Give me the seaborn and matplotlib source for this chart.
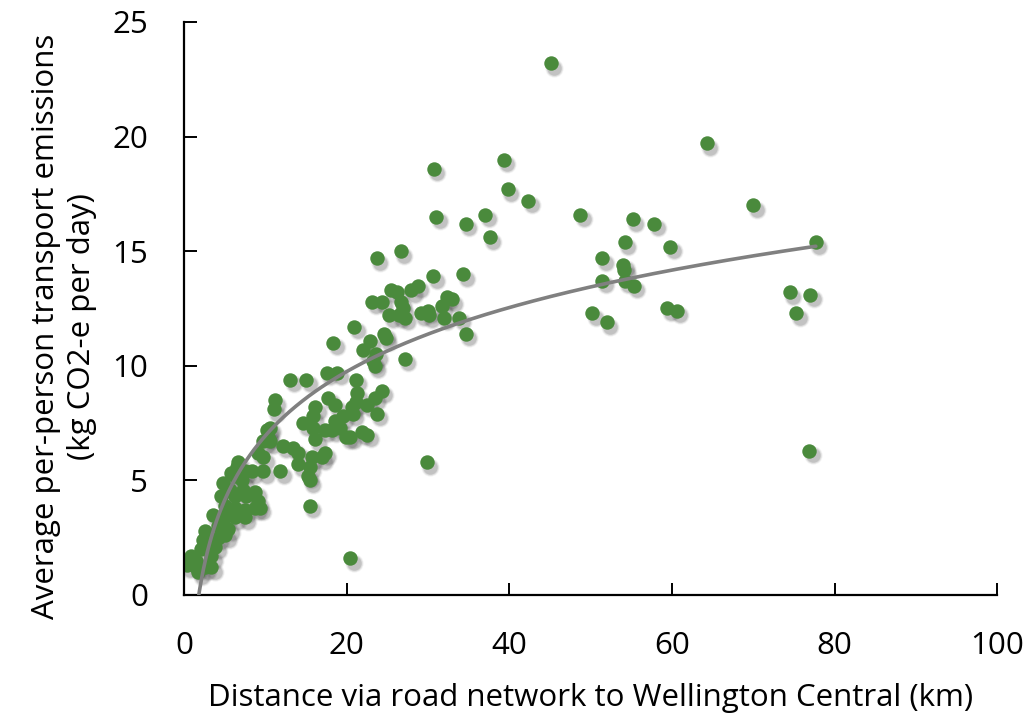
import numpy as np
import pandas as pd
import seaborn as sns
import matplotlib.pyplot as plt
from matplotlib.transforms import offset_copy

# distance via road network (km) and per-person emissions (kg CO2-e / day)
distance_km = [
    45.1, 64.3, 70.0, 39.3, 30.7, 39.8, 42.3, 48.7, 37.0, 31.0,
    34.6, 55.2, 57.8, 37.6, 59.8, 54.2, 77.7, 26.6, 23.7, 51.4,
    54.0, 54.1, 51.4, 54.2, 55.3, 34.3, 30.6, 74.5, 77.0, 75.3,
    50.2, 59.4, 60.6, 52.0, 34.6, 76.9, 29.8, 20.4, 15.4, 25.4,
    26.2, 27.9, 28.7, 23.1, 24.3, 26.6, 26.9, 25.2, 26.4, 27.1,
    29.1, 30.0, 30.1, 31.7, 32.3, 32.9, 31.9, 33.8, 20.9, 24.6,
    24.8, 22.8, 22.0, 23.6, 23.2, 23.4, 27.1, 18.3, 18.8, 13.0,
    15.0, 17.5, 21.1, 11.1, 11.0, 17.7, 18.5, 16.1, 15.8, 14.6,
    21.2, 21.1, 20.6, 20.7, 19.5, 18.5, 22.5, 23.4, 24.3, 23.7,
    17.3, 18.2, 19.1, 19.9, 20.4, 21.8, 22.5, 16.1, 12.1, 13.4,
    14.0, 14.0, 15.7, 15.4, 15.2, 17.3, 16.9, 15.8, 9.7, 11.8,
    10.2, 9.7, 10.5, 9.7, 10.3, 10.5, 9.0, 6.5, 6.2, 7.1,
    8.3, 4.7, 5.6, 7.2, 8.7, 5.7, 7.4, 4.5, 6.2, 7.6,
    9.0, 9.3, 8.7, 7.4, 6.2, 5.0, 3.5, 5.0, 6.2, 7.4,
    2.6, 4.1, 5.4, 2.3, 4.1, 5.0, 2.0, 3.8, 3.3, 0.8,
    0.3, 1.4, 2.5, 3.3, 1.7, 1.4, 6.6, 15.4,
]
emissions = [
    23.2, 19.7, 17.0, 19.0, 18.6, 17.7, 17.2, 16.6, 16.6, 16.5,
    16.2, 16.4, 16.2, 15.6, 15.2, 15.4, 15.4, 15.0, 14.7, 14.7,
    14.4, 14.2, 13.7, 13.7, 13.5, 14.0, 13.9, 13.2, 13.1, 12.3,
    12.3, 12.5, 12.4, 11.9, 11.4, 6.3, 5.8, 1.6, 3.9, 13.3,
    13.2, 13.3, 13.5, 12.8, 12.8, 12.8, 12.5, 12.2, 12.2, 12.1,
    12.3, 12.4, 12.2, 12.6, 13.0, 12.9, 12.1, 12.1, 11.7, 11.4,
    11.2, 11.1, 10.7, 10.5, 10.2, 10.0, 10.3, 11.0, 9.7, 9.4,
    9.4, 9.7, 9.4, 8.5, 8.1, 8.6, 8.3, 8.2, 7.8, 7.5,
    8.8, 8.4, 8.2, 7.9, 7.8, 7.6, 8.3, 8.6, 8.9, 7.9,
    7.2, 7.2, 7.3, 6.9, 6.9, 7.1, 7.0, 6.8, 6.5, 6.4,
    6.2, 5.7, 6.0, 5.6, 5.2, 6.2, 6.0, 7.3, 5.4, 5.4,
    7.2, 6.7, 7.3, 6.0, 6.9, 6.7, 6.2, 5.6, 5.2, 5.0,
    5.4, 4.9, 4.6, 4.6, 4.5, 5.3, 5.4, 4.3, 4.3, 4.3,
    4.1, 3.8, 3.8, 3.7, 3.8, 3.9, 3.5, 3.4, 3.4, 3.4,
    2.8, 3.0, 2.9, 2.4, 2.5, 2.6, 2.0, 2.1, 1.7, 1.7,
    1.3, 1.2, 1.2, 1.2, 1.0, 1.5, 5.8, 5.0,
]

x_ticks = [0, 20, 40, 60, 80, 100]
y_ticks = [0, 5, 10, 15, 20, 25]

df = pd.DataFrame({'dist': distance_km, 'emis': emissions})

# excel style log trendline
a, b = np.polyfit(np.log(df['dist']), df['emis'], 1)
xs = np.linspace(df['dist'].min(), df['dist'].max(), 300)
trend = pd.DataFrame({'dist': xs, 'emis': a * np.log(xs) + b})

sns.set_style('white')
plt.rcParams['font.family'] = ['Open Sans', 'DejaVu Sans']
plt.rcParams['text.color'] = 'black'
plt.rcParams['axes.labelcolor'] = 'black'

fig = plt.figure(figsize=(10.3, 7.21), dpi=100)
ax = fig.add_axes([0.179, 0.1748, 0.789, 0.7947])

green = '#4a8a3c'
msize = 108

# soft drop shadow under the dots
for grow, alpha in [(1.6, 0.06), (1.3, 0.10), (1.0, 0.16)]:
    shadow_tr = offset_copy(ax.transData, fig=fig, x=3.5, y=-4.5, units='dots')
    sns.scatterplot(data=df, x='dist', y='emis', ax=ax, s=msize * grow,
                    color='#303030', alpha=alpha, linewidth=0,
                    transform=shadow_tr, zorder=1, legend=False)

sns.scatterplot(data=df, x='dist', y='emis', ax=ax, s=msize, color=green,
                linewidth=0, zorder=2, legend=False)
sns.lineplot(data=trend, x='dist', y='emis', ax=ax, color='#808080',
             linewidth=2.6, zorder=3)

ax.set_xlim(0, 100)
ax.set_ylim(0, 25)
ax.set_xticks(x_ticks)
ax.set_yticks(y_ticks)
ax.tick_params(direction='in', length=9, width=1.4, colors='black',
               labelsize=22.5, pad=26, bottom=True, left=True)
for side in ['top', 'right']:
    ax.spines[side].set_visible(False)
for side in ['left', 'bottom']:
    ax.spines[side].set_color('black')
    ax.spines[side].set_linewidth(1.6)

ax.set_xlabel('Distance via road network to Wellington Central (km)',
              fontsize=22.5, labelpad=16)
ax.set_ylabel('Average per-person transport emissions\n(kg CO2-e per day)',
              fontsize=22.5, linespacing=1.25)
ax.yaxis.set_label_coords(-0.108, 0.468)

fig.savefig('out.png', dpi=100)
